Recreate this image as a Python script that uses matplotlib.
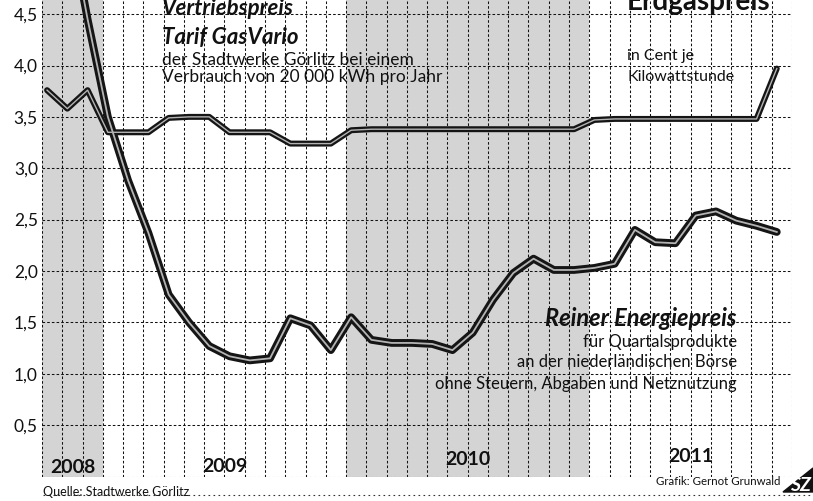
import matplotlib
matplotlib.use("Agg")
import matplotlib.pyplot as plt
from matplotlib.patches import Polygon
import numpy as np

plt.rcParams['font.family'] = ['Lato', 'DejaVu Sans']

# ---- data (monthly, Oct 2008 .. Oct 2011) ----
month_idx = list(range(37))
tariff = [3.76, 3.58, 3.76, 3.35, 3.35, 3.35, 3.49, 3.50, 3.50, 3.35, 3.35, 3.35,
          3.24, 3.24, 3.24, 3.37, 3.38, 3.38, 3.38, 3.38, 3.38, 3.38, 3.38, 3.38,
          3.38, 3.38, 3.38, 3.47, 3.48, 3.48, 3.48, 3.48, 3.48, 3.48, 3.48, 3.48,
          3.97]
energy = [6.6, 5.5, 4.45, 3.50, 2.88, 2.37, 1.77, 1.50, 1.27, 1.17, 1.13, 1.15,
          1.54, 1.47, 1.23, 1.55, 1.33, 1.30, 1.30, 1.29, 1.23, 1.40, 1.72, 1.98,
          2.12, 2.01, 2.01, 2.03, 2.07, 2.40, 2.28, 2.27, 2.54, 2.58, 2.49, 2.44,
          2.38]
years = ['2008', '2009', '2010', '2011']
year_start = [-0.25, 2.75, 14.75, 26.75]
year_end = [2.75, 14.75, 26.75, 36.75]
yticks = [0.5, 1.0, 1.5, 2.0, 2.5, 3.0, 3.5, 4.0, 4.5]
ytick_labels = ['0,5', '1,0', '1,5', '2,0', '2,5', '3,0', '3,5', '4,0', '4,5']

W, H = 813, 501
fig = plt.figure(figsize=(W / 100, H / 100), dpi=100)
fig.patch.set_facecolor('white')

ax_left, ax_right, ax_bottom_px = 42, 792, 476.5
ymax = 5.0
px_per_unit = 102.75
ax = fig.add_axes([ax_left / W, (H - ax_bottom_px) / H,
                   (ax_right - ax_left) / W, ymax * px_per_unit / H])
ax.set_xlim(-0.25, 36.75)
ax.set_ylim(0, ymax)
ax.set_facecolor('white')
for s in ax.spines.values():
    s.set_visible(False)

# shaded year bands
for i, (a, b) in enumerate(zip(year_start, year_end)):
    if i % 2 == 0:
        ax.axvspan(a, b, color='#d4d4d4', lw=0, zorder=0)

# dashed grid
grid_kw = dict(color='#111111', lw=0.75, dashes=(2.5, 2.0), zorder=1)
for xv in np.arange(-0.25, 36.76, 1.0):
    ax.axvline(xv, **grid_kw)
for yv in [0.0] + yticks:
    ax.axhline(yv, **grid_kw)

# lines: thick dark outline with light core
ax.plot(month_idx, tariff, color='#151515', lw=4.3, solid_joinstyle='round',
        solid_capstyle='round', zorder=3)
ax.plot(month_idx, tariff, color='#b4b4b4', lw=1.0, solid_joinstyle='round', zorder=4)
ax.plot(month_idx, energy, color='#151515', lw=5.6, solid_joinstyle='round',
        solid_capstyle='round', zorder=3)
ax.plot(month_idx, energy, color='#b4b4b4', lw=1.3, solid_joinstyle='round', zorder=4)

ax.set_xticks([])
ax.set_yticks(yticks)
ax.set_yticklabels(ytick_labels, fontsize=12.5, color='#111111')
ax.tick_params(axis='y', length=0, pad=3)

def T(x, y, s, **kw):
    fig.text(x / W, 1 - y / H, s, **kw)

# year labels
year_y = [473, 472, 465, 462]
for lab, a, b, yy in zip(years, year_start, year_end, year_y):
    xc = ax.transData.transform(((a + b) / 2, 0))[0]
    T(xc, yy, lab, ha='center', va='baseline', fontsize=14, fontweight='bold',
      color='#111111')

# annotations
T(162, 15, 'Vertriebspreis', fontsize=16, fontweight='bold', fontstyle='italic',
  va='baseline', color='#111111')
T(162, 44, 'Tarif GasVario', fontsize=16, fontweight='bold', fontstyle='italic',
  va='baseline', color='#111111')
T(162, 65, 'der Stadtwerke Görlitz bei einem', fontsize=12.5, va='baseline',
  color='#111111')
T(162, 82, 'Verbrauch von 20 000 kWh pro Jahr', fontsize=12.5, va='baseline',
  color='#111111')
T(627, 10, 'Erdgaspreis', fontsize=20, fontweight='bold', va='baseline',
  color='#111111')
T(627, 60, 'in Cent je', fontsize=11.5, va='baseline', color='#111111')
T(627, 81, 'Kilowattstunde', fontsize=11.5, va='baseline', color='#111111')

T(736, 326, 'Reiner Energiepreis', fontsize=17, fontweight='bold',
  fontstyle='italic', ha='right', va='baseline', color='#111111')
T(737, 347, 'für Quartalsprodukte', fontsize=12.0, ha='right', va='baseline',
  color='#111111')
T(737, 367, 'an der niederländischen Börse', fontsize=12.0, ha='right',
  va='baseline', color='#111111')
T(737, 389, 'ohne Steuern, Abgaben und Netznutzung', fontsize=12.0, ha='right',
  va='baseline', color='#111111')

# footer
T(43, 496, 'Quelle: Stadtwerke Görlitz', fontsize=9, va='baseline', color='#111111')
T(780, 485, 'Grafik: Gernot Grunwald', fontsize=8.3, ha='right', va='baseline',
  color='#111111')
fig.add_artist(plt.Line2D([43 / W, 1.0], [1 - 495 / H, 1 - 495 / H],
                          transform=fig.transFigure, color='#333333', lw=0.8,
                          dashes=(1.5, 3.0)))
# logo fragment
fig.add_artist(Polygon([[783 / W, 1 - 492 / H], [813 / W, 1 - 468 / H],
                        [813 / W, 1 - 492 / H]], closed=True,
                       transform=fig.transFigure, color='#111111'))
T(790, 491, 'SZ', fontsize=14, fontweight='bold', fontstyle='italic',
  va='baseline', color='white')

fig.savefig('out.png', dpi=100, facecolor='white')
